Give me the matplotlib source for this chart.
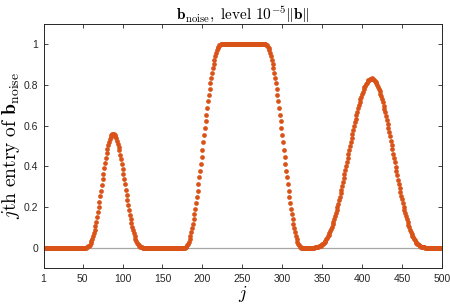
import matplotlib
matplotlib.use("Agg")
import matplotlib.pyplot as plt

plt.rcParams['mathtext.fontset'] = 'cm'
plt.rcParams['font.family'] = ['Liberation Sans', 'DejaVu Sans']

# values of b_noise, j = 1..500
zeros_start = [0.0]*52                      # j = 1..52
bump1 = [0.000, 0.000, 0.001, 0.003, 0.006, 0.010, 0.015, 0.022, 0.031, 0.042,
         0.055, 0.070, 0.087, 0.106, 0.126, 0.149, 0.173, 0.198, 0.224, 0.252,
         0.280, 0.308, 0.336, 0.364, 0.391, 0.417, 0.442, 0.465, 0.486, 0.505,
         0.521, 0.535, 0.546, 0.554, 0.558, 0.560,
         0.559, 0.554, 0.548, 0.538, 0.526, 0.512, 0.496, 0.478, 0.458, 0.436,
         0.413, 0.389, 0.364, 0.338, 0.312, 0.286, 0.260, 0.235, 0.210, 0.186,
         0.163, 0.142, 0.122, 0.103, 0.086, 0.070, 0.056, 0.044, 0.034, 0.025,
         0.018, 0.012, 0.008, 0.005, 0.002, 0.001, 0.0, 0.0, 0.0]   # j = 53..127
zeros_mid1 = [0.0]*51                       # j = 128..178
rise = [0.0012, 0.0049, 0.0109, 0.0194, 0.0302, 0.0432, 0.0585, 0.0760, 0.0955, 0.1170,
        0.1403, 0.1654, 0.1922, 0.2204, 0.2500, 0.2808, 0.3127, 0.3455, 0.3790, 0.4132,
        0.4477, 0.4826, 0.5174, 0.5523, 0.5868, 0.6210, 0.6545, 0.6873, 0.7192, 0.7500,
        0.7796, 0.8078, 0.8346, 0.8597, 0.8830, 0.9045, 0.9240, 0.9415, 0.9568, 0.9698,
        0.9806, 0.9891, 0.9951, 0.9988]     # j = 179..222
plateau = [1.0]*57                          # j = 223..279
fall = [0.9988, 0.9951, 0.9891, 0.9806, 0.9698, 0.9568, 0.9415, 0.9240, 0.9045, 0.8830,
        0.8597, 0.8346, 0.8078, 0.7796, 0.7500, 0.7192, 0.6873, 0.6545, 0.6210, 0.5868,
        0.5523, 0.5174, 0.4826, 0.4477, 0.4132, 0.3790, 0.3455, 0.3127, 0.2808, 0.2500,
        0.2204, 0.1922, 0.1654, 0.1403, 0.1170, 0.0955, 0.0760, 0.0585, 0.0432, 0.0302,
        0.0194, 0.0109, 0.0049, 0.0012]     # j = 280..323
zeros_mid2 = [0.0]*14                       # j = 324..337
bump3 = [0.0, 0.0, 0.000, 0.001, 0.001, 0.002, 0.003, 0.004, 0.006, 0.008,
         0.010, 0.013, 0.016, 0.020, 0.025, 0.030, 0.035, 0.042, 0.049, 0.056,
         0.064, 0.074, 0.083, 0.093, 0.104, 0.116, 0.128, 0.141, 0.155, 0.169,
         0.184, 0.200, 0.216, 0.232, 0.249, 0.267, 0.285, 0.304, 0.322, 0.342,
         0.361, 0.381, 0.401, 0.420, 0.441, 0.461, 0.481, 0.501, 0.521, 0.540,
         0.560, 0.579, 0.598, 0.616, 0.634, 0.652, 0.668, 0.685, 0.700, 0.716,
         0.730, 0.743, 0.756, 0.767, 0.778, 0.788, 0.797, 0.805, 0.812, 0.818,
         0.823, 0.827, 0.830, 0.831,
         0.832,
         0.831, 0.829, 0.826, 0.822, 0.816, 0.809, 0.801, 0.792, 0.782, 0.771,
         0.758, 0.745, 0.731, 0.716, 0.699, 0.683, 0.665, 0.647, 0.628, 0.608,
         0.588, 0.568, 0.547, 0.526, 0.505, 0.484, 0.462, 0.441, 0.419, 0.398,
         0.376, 0.355, 0.335, 0.314, 0.294, 0.275, 0.256, 0.237, 0.219, 0.202,
         0.185, 0.169, 0.154, 0.139, 0.125, 0.113, 0.100, 0.089, 0.078, 0.068,
         0.059, 0.051, 0.043, 0.036, 0.030, 0.025, 0.020, 0.016, 0.012, 0.009,
         0.007, 0.005, 0.003, 0.002, 0.001, 0.001, 0.0, 0.0, 0.0, 0.0]  # j = 338..482
zeros_end = [0.0]*18                        # j = 483..500

b_noise = (zeros_start + bump1 + zeros_mid1 + rise + plateau + fall
           + zeros_mid2 + bump3 + zeros_end)
j = list(range(1, len(b_noise) + 1))

xticks = [1, 50, 100, 150, 200, 250, 300, 350, 400, 450, 500]
yticks = [0, 0.2, 0.4, 0.6, 0.8, 1]
yticklabels = ['0', '0.2', '0.4', '0.6', '0.8', '1']

fig = plt.figure(figsize=(4.5, 3.06), dpi=100)
ax = fig.add_axes([0.0967, 0.1242, 0.8853, 0.7974])

ax.axhline(0, color='#a6a6a6', lw=0.9, zorder=1)
ax.plot(j, b_noise, 'o', color='#D95319', ms=3.4, mec='none', zorder=2)

ax.set_xlim(1, 500)
ax.set_ylim(-0.1, 1.1)
ax.set_xticks(xticks)
ax.set_yticks(yticks)
ax.set_yticklabels(yticklabels)
ax.tick_params(direction='in', length=3, width=0.6, top=True, right=True,
               labelsize=7.5, colors='#262626', pad=4)
for s in ax.spines.values():
    s.set_color('#262626')
    s.set_linewidth(0.7)

ax.set_title(r'$\mathbf{b}_{\mathrm{noise}},\ \mathrm{level}\ 10^{-5}\|\mathbf{b}\|$',
             fontsize=11, pad=4)
ax.set_xlabel(r'$j$', fontsize=13, labelpad=0)
ax.set_ylabel(r'$j\mathrm{th\ entry\ of\ }\mathbf{b}_{\mathrm{noise}}$', fontsize=14, labelpad=1)

fig.savefig('out.png', dpi=100)
